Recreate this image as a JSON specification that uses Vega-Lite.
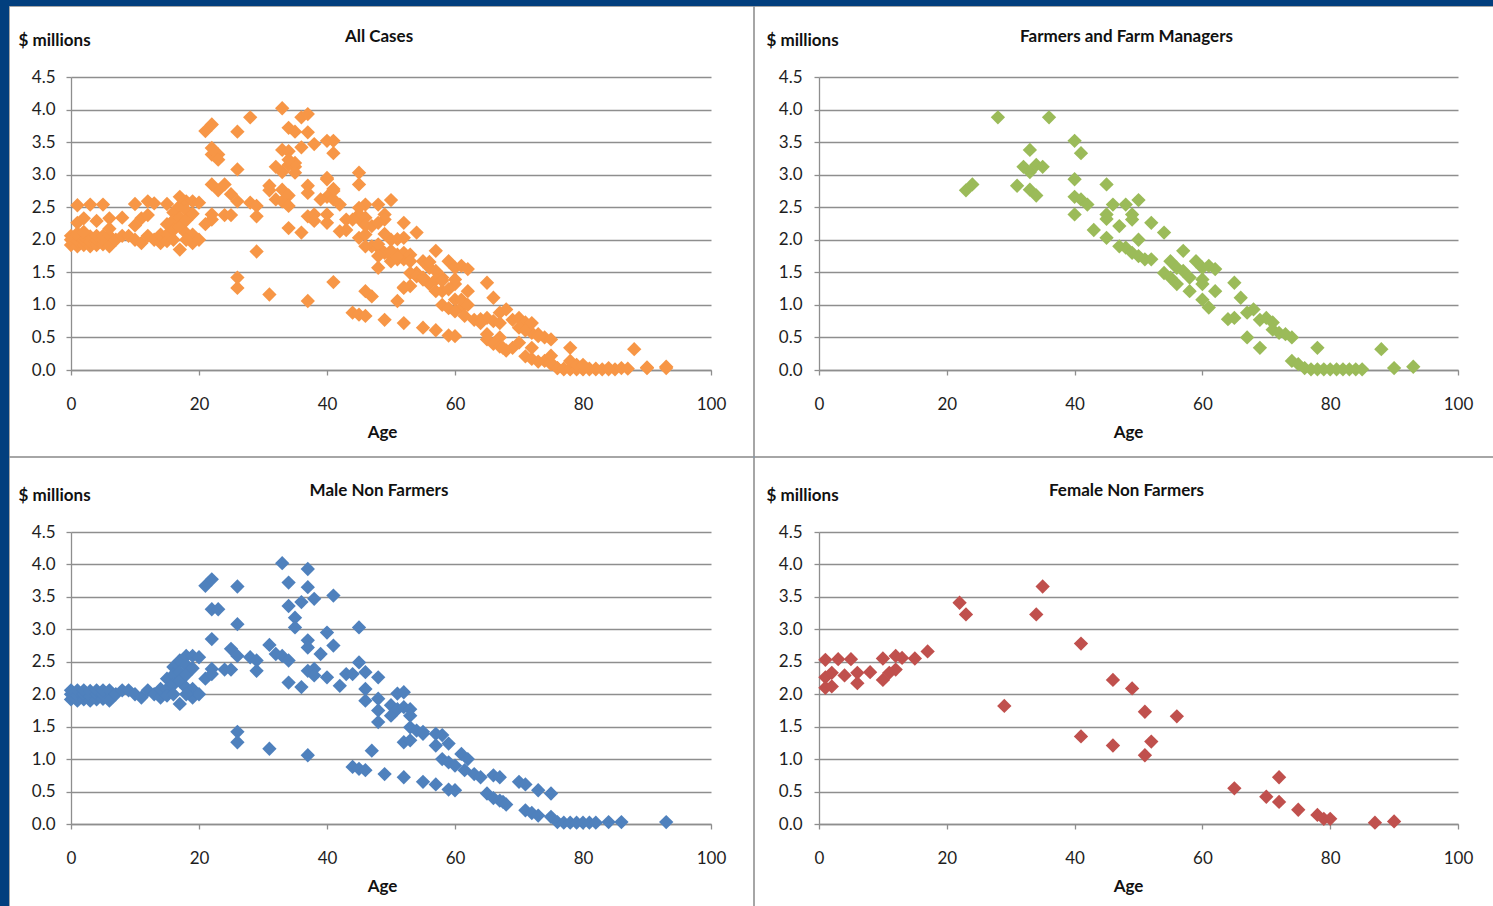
{
"$schema": "https://vega.github.io/schema/vega-lite/v6.json",
"background": "#023f7e",
"padding": {"left": 8, "top": 5, "right": 0, "bottom": 0},
"spacing": -3,
"config": {
 "view": {"fill": "#ffffff", "stroke": "#a6a6a6", "strokeWidth": 1},
 "font": "Lato",
 "axis": {"labelFont": "Lato", "labelFontSize": 17, "labelColor": "#1e1e1e", "titleFont": "Lato", "titleFontSize": 17, "titleFontWeight": "bold", "titleColor": "#111111", "domainColor": "#8e8e8e", "tickColor": "#8e8e8e", "gridColor": "#8e8e8e", "domainWidth": 1.3, "tickWidth": 1.3, "gridWidth": 1.3, "tickSize": 5, "labelFlush": false, "labelOverlap": false},
 "title": {"font": "Lato", "fontSize": 17, "fontWeight": "bold", "color": "#111111", "anchor": "middle", "frame": "group"},
 "point": {"shape": "diamond", "filled": true, "size": 205, "opacity": 1}
},
"datasets": {"pts": [
{"g":"F","a":23,"v":2.76},{"g":"F","a":24,"v":2.85},{"g":"F","a":28,"v":3.88},{"g":"F","a":36,"v":3.88},{"g":"F","a":33,"v":3.38},{"g":"F","a":32,"v":3.12},{"g":"F","a":33,"v":3.04},{"g":"F","a":34,"v":3.15},{"g":"F","a":35,"v":3.12},{"g":"F","a":31,"v":2.83},{"g":"F","a":33,"v":2.77},{"g":"F","a":34,"v":2.68},{"g":"F","a":40,"v":3.52},{"g":"F","a":41,"v":3.33},{"g":"F","a":40,"v":2.93},{"g":"F","a":40,"v":2.66},{"g":"F","a":41,"v":2.62},{"g":"F","a":42,"v":2.54},{"g":"F","a":40,"v":2.39},{"g":"F","a":45,"v":2.85},{"g":"F","a":43,"v":2.15},{"g":"F","a":45,"v":2.03},{"g":"F","a":46,"v":2.54},{"g":"F","a":48,"v":2.54},{"g":"F","a":50,"v":2.61},{"g":"F","a":45,"v":2.39},{"g":"F","a":45,"v":2.32},{"g":"F","a":47,"v":2.21},{"g":"F","a":49,"v":2.39},{"g":"F","a":49,"v":2.31},{"g":"F","a":52,"v":2.26},{"g":"F","a":54,"v":2.11},{"g":"F","a":47,"v":1.9},{"g":"F","a":48,"v":1.88},{"g":"F","a":50,"v":2.0},{"g":"F","a":49,"v":1.8},{"g":"F","a":50,"v":1.75},{"g":"F","a":51,"v":1.7},{"g":"F","a":52,"v":1.7},{"g":"F","a":57,"v":1.83},{"g":"F","a":55,"v":1.67},{"g":"F","a":56,"v":1.57},{"g":"F","a":54,"v":1.49},{"g":"F","a":55,"v":1.42},{"g":"F","a":56,"v":1.32},{"g":"F","a":57,"v":1.52},{"g":"F","a":58,"v":1.42},{"g":"F","a":58,"v":1.21},{"g":"F","a":59,"v":1.67},{"g":"F","a":60,"v":1.57},{"g":"F","a":60,"v":1.32},{"g":"F","a":61,"v":1.6},{"g":"F","a":60,"v":1.39},{"g":"F","a":62,"v":1.21},{"g":"F","a":60,"v":1.08},{"g":"F","a":61,"v":0.96},{"g":"F","a":62,"v":1.55},{"g":"F","a":65,"v":1.34},{"g":"F","a":66,"v":1.11},{"g":"F","a":64,"v":0.78},{"g":"F","a":65,"v":0.8},{"g":"F","a":67,"v":0.88},{"g":"F","a":68,"v":0.93},{"g":"F","a":67,"v":0.5},{"g":"F","a":69,"v":0.34},{"g":"F","a":69,"v":0.77},{"g":"F","a":70,"v":0.8},{"g":"F","a":71,"v":0.73},{"g":"F","a":71,"v":0.62},{"g":"F","a":72,"v":0.57},{"g":"F","a":73,"v":0.55},{"g":"F","a":74,"v":0.5},{"g":"F","a":74,"v":0.14},{"g":"F","a":75,"v":0.09},{"g":"F","a":76,"v":0.03},{"g":"F","a":78,"v":0.34},{"g":"F","a":77,"v":0.01},{"g":"F","a":78,"v":0.01},{"g":"F","a":79,"v":0.01},{"g":"F","a":80,"v":0.01},{"g":"F","a":81,"v":0.01},{"g":"F","a":82,"v":0.01},{"g":"F","a":83,"v":0.01},{"g":"F","a":84,"v":0.01},{"g":"F","a":85,"v":0.01},{"g":"F","a":88,"v":0.32},{"g":"F","a":90,"v":0.03},{"g":"F","a":93,"v":0.05},
{"g":"M","a":0,"v":1.92},{"g":"M","a":0,"v":2.0},{"g":"M","a":0,"v":2.06},{"g":"M","a":1,"v":1.9},{"g":"M","a":1,"v":1.98},{"g":"M","a":1,"v":2.06},{"g":"M","a":2,"v":1.92},{"g":"M","a":2,"v":2.0},{"g":"M","a":2,"v":2.06},{"g":"M","a":3,"v":1.9},{"g":"M","a":3,"v":1.97},{"g":"M","a":3,"v":2.05},{"g":"M","a":4,"v":1.92},{"g":"M","a":4,"v":2.0},{"g":"M","a":4,"v":2.06},{"g":"M","a":5,"v":1.93},{"g":"M","a":5,"v":2.0},{"g":"M","a":5,"v":2.06},
{"g":"M","a":6,"v":2.06},{"g":"M","a":6,"v":1.9},{"g":"M","a":7,"v":2.0},{"g":"M","a":8,"v":2.06},{"g":"M","a":9,"v":2.06},{"g":"M","a":10,"v":2.0},{"g":"M","a":11,"v":1.95},{"g":"M","a":12,"v":2.06},{"g":"M","a":13,"v":2.0},{"g":"M","a":14,"v":1.95},{"g":"M","a":14,"v":2.08},
{"g":"M","a":15,"v":2.24},{"g":"M","a":15,"v":2.08},{"g":"M","a":16,"v":2.42},{"g":"M","a":16,"v":2.3},{"g":"M","a":16,"v":2.15},{"g":"M","a":17,"v":2.52},{"g":"M","a":17,"v":2.34},{"g":"M","a":17,"v":1.85},{"g":"M","a":17,"v":2.2},{"g":"M","a":18,"v":2.59},{"g":"M","a":18,"v":2.45},{"g":"M","a":18,"v":2.3},{"g":"M","a":18,"v":2.1},{"g":"M","a":19,"v":2.59},{"g":"M","a":19,"v":2.08},{"g":"M","a":19,"v":1.95},{"g":"M","a":19,"v":2.4},{"g":"M","a":20,"v":2.57},{"g":"M","a":20,"v":2.0},{"g":"M","a":15,"v":1.98},{"g":"M","a":16,"v":2.0},{"g":"M","a":18,"v":2.0},
{"g":"M","a":21,"v":3.67},{"g":"M","a":22,"v":3.77},{"g":"M","a":22,"v":3.31},{"g":"M","a":23,"v":3.31},{"g":"M","a":22,"v":2.85},{"g":"M","a":21,"v":2.24},{"g":"M","a":22,"v":2.39},{"g":"M","a":22,"v":2.31},{"g":"M","a":26,"v":3.66},{"g":"M","a":26,"v":3.08},{"g":"M","a":25,"v":2.7},{"g":"M","a":26,"v":2.59},{"g":"M","a":24,"v":2.38},{"g":"M","a":25,"v":2.38},{"g":"M","a":26,"v":1.42},{"g":"M","a":26,"v":1.26},{"g":"M","a":28,"v":2.57},{"g":"M","a":29,"v":2.52},{"g":"M","a":29,"v":2.36},{"g":"M","a":31,"v":1.16},{"g":"M","a":31,"v":2.76},{"g":"M","a":33,"v":4.02},{"g":"M","a":34,"v":3.72},{"g":"M","a":34,"v":3.36},{"g":"M","a":35,"v":3.18},{"g":"M","a":35,"v":3.03},{"g":"M","a":37,"v":3.93},{"g":"M","a":37,"v":3.65},{"g":"M","a":36,"v":3.42},{"g":"M","a":38,"v":3.47},{"g":"M","a":32,"v":2.62},{"g":"M","a":33,"v":2.59},{"g":"M","a":34,"v":2.52},{"g":"M","a":34,"v":2.18},{"g":"M","a":36,"v":2.11},{"g":"M","a":37,"v":2.83},{"g":"M","a":37,"v":2.72},{"g":"M","a":37,"v":2.36},{"g":"M","a":38,"v":2.39},{"g":"M","a":38,"v":2.29},{"g":"M","a":39,"v":2.62},{"g":"M","a":40,"v":2.95},{"g":"M","a":41,"v":2.75},{"g":"M","a":41,"v":3.52},{"g":"M","a":40,"v":2.26},{"g":"M","a":37,"v":1.06},{"g":"M","a":42,"v":2.13},{"g":"M","a":43,"v":2.31},{"g":"M","a":44,"v":2.31},{"g":"M","a":45,"v":3.03},{"g":"M","a":45,"v":2.49},{"g":"M","a":46,"v":2.34},{"g":"M","a":46,"v":2.08},{"g":"M","a":46,"v":1.9},{"g":"M","a":48,"v":2.26},{"g":"M","a":48,"v":1.93},{"g":"M","a":48,"v":1.75},{"g":"M","a":48,"v":1.57},{"g":"M","a":50,"v":1.83},{"g":"M","a":47,"v":1.13},{"g":"M","a":44,"v":0.88},{"g":"M","a":45,"v":0.85},{"g":"M","a":46,"v":0.83},{"g":"M","a":49,"v":0.77},
{"g":"M","a":51,"v":2.01},{"g":"M","a":52,"v":2.03},{"g":"M","a":50,"v":1.67},{"g":"M","a":51,"v":1.77},{"g":"M","a":52,"v":1.8},{"g":"M","a":53,"v":1.77},{"g":"M","a":53,"v":1.67},{"g":"M","a":53,"v":1.49},{"g":"M","a":54,"v":1.44},{"g":"M","a":55,"v":1.39},{"g":"M","a":55,"v":1.42},{"g":"M","a":52,"v":1.26},{"g":"M","a":53,"v":1.29},{"g":"M","a":52,"v":0.72},{"g":"M","a":55,"v":0.65},{"g":"M","a":57,"v":0.61},{"g":"M","a":59,"v":0.53},{"g":"M","a":60,"v":0.52},{"g":"M","a":57,"v":1.39},{"g":"M","a":58,"v":1.37},{"g":"M","a":57,"v":1.21},{"g":"M","a":59,"v":1.24},{"g":"M","a":58,"v":1.0},{"g":"M","a":59,"v":0.95},{"g":"M","a":60,"v":0.9},{"g":"M","a":61,"v":1.08},{"g":"M","a":62,"v":1.0},{"g":"M","a":61.5,"v":0.83},{"g":"M","a":63,"v":0.77},{"g":"M","a":64,"v":0.72},{"g":"M","a":66,"v":0.75},{"g":"M","a":67,"v":0.72},{"g":"M","a":65,"v":0.47},{"g":"M","a":66,"v":0.4},{"g":"M","a":67,"v":0.36},{"g":"M","a":67.5,"v":0.34},{"g":"M","a":68,"v":0.3},{"g":"M","a":70,"v":0.65},{"g":"M","a":71,"v":0.61},{"g":"M","a":73,"v":0.52},{"g":"M","a":75,"v":0.47},{"g":"M","a":71,"v":0.21},{"g":"M","a":72,"v":0.17},{"g":"M","a":73,"v":0.13},{"g":"M","a":75,"v":0.11},{"g":"M","a":76,"v":0.03},{"g":"M","a":77,"v":0.02},{"g":"M","a":78,"v":0.02},{"g":"M","a":79,"v":0.02},{"g":"M","a":80,"v":0.02},{"g":"M","a":81,"v":0.02},{"g":"M","a":82,"v":0.02},{"g":"M","a":84,"v":0.03},{"g":"M","a":86,"v":0.03},{"g":"M","a":93,"v":0.03},
{"g":"W","a":1,"v":2.53},{"g":"W","a":1,"v":2.26},{"g":"W","a":1,"v":2.1},{"g":"W","a":2,"v":2.33},{"g":"W","a":2,"v":2.12},{"g":"W","a":3,"v":2.54},{"g":"W","a":4,"v":2.29},{"g":"W","a":5,"v":2.54},{"g":"W","a":6,"v":2.33},{"g":"W","a":6,"v":2.17},{"g":"W","a":8,"v":2.34},{"g":"W","a":10,"v":2.55},{"g":"W","a":10,"v":2.22},{"g":"W","a":11,"v":2.33},{"g":"W","a":12,"v":2.38},{"g":"W","a":12,"v":2.59},{"g":"W","a":13,"v":2.56},{"g":"W","a":15,"v":2.55},{"g":"W","a":17,"v":2.66},{"g":"W","a":22,"v":3.41},{"g":"W","a":23,"v":3.23},{"g":"W","a":29,"v":1.82},{"g":"W","a":34,"v":3.23},{"g":"W","a":35,"v":3.66},{"g":"W","a":41,"v":2.78},{"g":"W","a":41,"v":1.35},{"g":"W","a":46,"v":2.22},{"g":"W","a":46,"v":1.21},{"g":"W","a":49,"v":2.09},{"g":"W","a":51,"v":1.73},{"g":"W","a":51,"v":1.06},{"g":"W","a":52,"v":1.27},{"g":"W","a":56,"v":1.66},{"g":"W","a":65,"v":0.55},{"g":"W","a":70,"v":0.42},{"g":"W","a":72,"v":0.72},{"g":"W","a":72,"v":0.34},{"g":"W","a":75,"v":0.22},{"g":"W","a":78,"v":0.14},{"g":"W","a":79,"v":0.08},{"g":"W","a":80,"v":0.08},{"g":"W","a":87,"v":0.02},{"g":"W","a":90,"v":0.04}
]},
"vconcat": [
 {"spacing": -3, "hconcat": [
  {"width": 744, "height": 450, "data": {"name": "pts"},
   "title": {"text": "All Cases", "offset": -40, "dx": -2},
   "mark": {"type": "point", "color": "#F79646"},
   "encoding": {
    "x": {"field": "a", "type": "quantitative", "scale": {"domain": [0, 100], "range": [62, 702], "nice": false, "zero": false},
     "axis": {"values": [0, 20, 40, 60, 80, 100], "grid": false, "offset": -86, "labelPadding": 21, "title": "Age", "titleX": 373, "titleY": 67, "titleBaseline": "alphabetic", "titleAlign": "center"}},
    "y": {"field": "v", "type": "quantitative", "scale": {"domain": [0, 4.5], "range": [364, 71], "nice": false, "zero": false},
     "axis": {"values": [0, 0.5, 1, 1.5, 2, 2.5, 3, 3.5, 4, 4.5], "format": ".1f", "grid": true, "offset": -62, "labelPadding": 11, "title": "$ millions", "titleAngle": 0, "titleAlign": "left", "titleX": -53, "titleY": 39, "titleBaseline": "alphabetic"}}
   }},
  {"width": 741, "height": 450, "data": {"name": "pts"},
   "transform": [{"filter": "datum.g == 'F'"}],
   "title": {"text": "Farmers and Farm Managers", "offset": -40, "dx": 2},
   "mark": {"type": "point", "color": "#9BBB59"},
   "encoding": {
    "x": {"field": "a", "type": "quantitative", "scale": {"domain": [0, 100], "range": [65, 704], "nice": false, "zero": false},
     "axis": {"values": [0, 20, 40, 60, 80, 100], "grid": false, "offset": -86, "labelPadding": 21, "title": "Age", "titleX": 374, "titleY": 67, "titleBaseline": "alphabetic", "titleAlign": "center"}},
    "y": {"field": "v", "type": "quantitative", "scale": {"domain": [0, 4.5], "range": [364, 71], "nice": false, "zero": false},
     "axis": {"values": [0, 0.5, 1, 1.5, 2, 2.5, 3, 3.5, 4, 4.5], "format": ".1f", "grid": true, "offset": -65, "labelPadding": 12, "title": "$ millions", "titleAngle": 0, "titleAlign": "left", "titleX": -53, "titleY": 39, "titleBaseline": "alphabetic"}}
   }}
 ]},
 {"spacing": -3, "hconcat": [
  {"width": 744, "height": 451, "data": {"name": "pts"},
   "transform": [{"filter": "datum.g == 'M'"}],
   "title": {"text": "Male Non Farmers", "offset": -43, "dx": -2},
   "mark": {"type": "point", "color": "#4F81BD"},
   "encoding": {
    "x": {"field": "a", "type": "quantitative", "scale": {"domain": [0, 100], "range": [62, 702], "nice": false, "zero": false},
     "axis": {"values": [0, 20, 40, 60, 80, 100], "grid": false, "offset": -84, "labelPadding": 21, "title": "Age", "titleX": 373, "titleY": 67, "titleBaseline": "alphabetic", "titleAlign": "center"}},
    "y": {"field": "v", "type": "quantitative", "scale": {"domain": [0, 4.5], "range": [367, 75], "nice": false, "zero": false},
     "axis": {"values": [0, 0.5, 1, 1.5, 2, 2.5, 3, 3.5, 4, 4.5], "format": ".1f", "grid": true, "offset": -62, "labelPadding": 11, "title": "$ millions", "titleAngle": 0, "titleAlign": "left", "titleX": -53, "titleY": 43, "titleBaseline": "alphabetic"}}
   }},
  {"width": 741, "height": 451, "data": {"name": "pts"},
   "transform": [{"filter": "datum.g == 'W'"}],
   "title": {"text": "Female Non Farmers", "offset": -43, "dx": 2},
   "mark": {"type": "point", "color": "#C0504D"},
   "encoding": {
    "x": {"field": "a", "type": "quantitative", "scale": {"domain": [0, 100], "range": [65, 704], "nice": false, "zero": false},
     "axis": {"values": [0, 20, 40, 60, 80, 100], "grid": false, "offset": -84, "labelPadding": 21, "title": "Age", "titleX": 374, "titleY": 67, "titleBaseline": "alphabetic", "titleAlign": "center"}},
    "y": {"field": "v", "type": "quantitative", "scale": {"domain": [0, 4.5], "range": [367, 75], "nice": false, "zero": false},
     "axis": {"values": [0, 0.5, 1, 1.5, 2, 2.5, 3, 3.5, 4, 4.5], "format": ".1f", "grid": true, "offset": -65, "labelPadding": 12, "title": "$ millions", "titleAngle": 0, "titleAlign": "left", "titleX": -53, "titleY": 43, "titleBaseline": "alphabetic"}}
   }}
 ]}
]
}
